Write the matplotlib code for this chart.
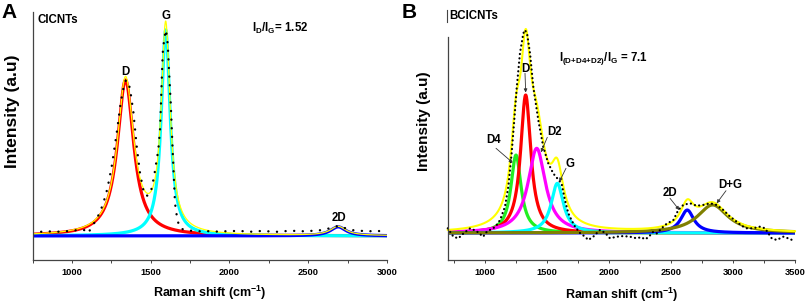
import numpy as np
import matplotlib
matplotlib.use("Agg")
import matplotlib.pyplot as plt
from matplotlib.lines import Line2D
from matplotlib.ticker import MultipleLocator

plt.rcParams['font.family'] = ['Liberation Sans', 'DejaVu Sans']
plt.rcParams['font.weight'] = 'bold'
plt.rcParams['mathtext.fontset'] = 'custom'
plt.rcParams['mathtext.rm'] = 'Liberation Sans:bold'
plt.rcParams['mathtext.it'] = 'Liberation Sans:bold'
plt.rcParams['mathtext.bf'] = 'Liberation Sans:bold'

# ---------------- data: panel A (CICNTs) ----------------
xA = [750, 800, 850, 900, 950, 1000, 1050, 1080, 1100, 1120, 1146, 1175, 1199, 1225,
      1252, 1284, 1310, 1330, 1343, 1355, 1368, 1390, 1411, 1432, 1459, 1480, 1500,
      1521, 1531, 1548, 1559, 1570, 1576, 1586, 1597, 1608, 1618, 1627, 1640, 1654,
      1669, 1686, 1720, 1760, 1800, 1850, 1900, 1950, 2000, 2050, 2100, 2150, 2200,
      2250, 2300, 2350, 2400, 2450, 2500, 2550, 2600, 2640, 2670, 2690, 2710, 2740,
      2780, 2830, 2880, 2930, 2970, 3000]
yA = [0.025, 0.02, 0.022, 0.02, 0.022, 0.025, 0.03, 0.028, 0.012, 0.035, 0.069, 0.11,
      0.159, 0.23, 0.336, 0.5, 0.65, 0.73, 0.757, 0.745, 0.717, 0.6, 0.434, 0.304, 0.2,
      0.195, 0.21, 0.288, 0.336, 0.417, 0.515, 0.757, 0.887, 0.96, 1.0, 0.93, 0.773,
      0.644, 0.4, 0.159, 0.078, 0.037, 0.028, 0.025, 0.022, 0.024, 0.02, 0.023, 0.022,
      0.025, 0.022, 0.02, 0.024, 0.022, 0.02, 0.023, 0.025, 0.022, 0.024, 0.025, 0.03,
      0.038, 0.045, 0.048, 0.045, 0.036, 0.028, 0.025, 0.022, 0.025, 0.022, 0.02]
# fitted Lorentzian peaks: name, centre, height, FWHM, colour
peaksA_names = ['D', 'G', '2D']
peaksA_center = [1340, 1595, 2690]
peaksA_height = [0.757, 1.0, 0.044]
peaksA_fwhm = [125, 68, 120]
peaksA_color = ['#ff0000', '#00ffff', '#0000ff']

# ---------------- data: panel B (BCICNTs) ----------------
xB = [700, 745, 785, 830, 880, 930, 985, 1014, 1040, 1067, 1095, 1121, 1161, 1188, 1215,
      1236, 1256, 1282, 1309, 1323, 1340, 1363, 1390, 1430, 1470, 1510, 1551, 1585, 1618,
      1645, 1672, 1700, 1726, 1766, 1806, 1833, 1873, 1927, 1970, 2008, 2062, 2115, 2169,
      2223, 2260, 2290, 2317, 2357, 2385, 2438, 2465, 2519, 2559, 2599, 2653, 2707, 2761,
      2815, 2868, 2922, 2976, 3030, 3070, 3110, 3164, 3218, 3258, 3312, 3352, 3406, 3460,
      3500]
yB = [0.023, -0.018, -0.026, 0.0, 0.023, 0.01, -0.018, 0.006, 0.015, 0.023, 0.04, 0.063,
      0.128, 0.226, 0.39, 0.55, 0.71, 0.877, 0.974, 0.99, 0.97, 0.877, 0.71, 0.55, 0.42,
      0.34, 0.29, 0.265, 0.24, 0.16, 0.096, 0.06, 0.031, 0.0, -0.018, -0.034, -0.018,
      0.015, 0.0, -0.026, -0.018, -0.015, -0.018, -0.026, -0.02, -0.031, -0.021, 0.006,
      -0.002, 0.031, 0.045, 0.063, 0.112, 0.137, 0.145, 0.133, 0.137, 0.145, 0.137, 0.112,
      0.08, 0.055, 0.035, 0.023, 0.023, 0.031, 0.023, -0.026, -0.034, -0.018, -0.029,
      -0.042]
peaksB_names = ['D4', 'D', 'D2', 'G', '2D', 'D+G']
peaksB_center = [1250, 1328, 1417, 1583, 2631, 2836]
peaksB_height = [0.38, 0.673, 0.413, 0.242, 0.112, 0.137]
peaksB_fwhm = [100, 100, 170, 120, 130, 300]
peaksB_color = ['#22ee22', '#ff0000', '#ff00ff', '#00ffff', '#0000ff', '#808000']

ticks_A = [1000, 1500, 2000, 2500, 3000]
ticks_B = [1000, 1500, 2000, 2500, 3000, 3500]


def lor(x, c, h, w):
    return h / (1.0 + ((x - c) / (w / 2.0)) ** 2)


W, H = 809, 307
fig = plt.figure(figsize=(W / 100, H / 100), dpi=100)

axA = fig.add_axes([32.6 / W, 47 / H, (387 - 32.6) / W, 248 / H])
axB = fig.add_axes([447.8 / W, 47 / H, (795 - 447.8) / W, 248 / H])
axA.set_xlim(750, 3000)
axA.set_ylim(-0.117, 1.087)
axB.set_xlim(700, 3500)
axB.set_ylim(-0.1317, 1.078)

for ax, ticks in ((axA, ticks_A), (axB, ticks_B)):
    for s in ('top', 'right'):
        ax.spines[s].set_visible(False)
    for s in ('left', 'bottom'):
        ax.spines[s].set_color('#444444')
        ax.spines[s].set_linewidth(0.9)
    ax.set_yticks([])
    ax.set_xticks(ticks)
    ax.xaxis.set_minor_locator(MultipleLocator(250))
    ax.tick_params(axis='x', which='both', direction='out', length=2.5, width=0.7,
                   color='#444444', labelsize=6.7, pad=3)
    for lab in ax.get_xticklabels():
        lab.set_fontweight('bold')
    ax.set_facecolor('none')

axB.spines['left'].set_bounds(-0.1317, 0.956)


def P(ax, X, Y):
    return tuple(ax.transData.inverted().transform((X, H - Y)))


# ---------- panel A ----------
gA = np.linspace(750, 3000, 3000)
cumA = np.zeros_like(gA)
for c, h, w, col in zip(peaksA_center, peaksA_height, peaksA_fwhm, peaksA_color):
    yy = lor(gA, c, h, w)
    cumA += yy
    axA.plot(gA, yy, color=col, lw=2.3, solid_capstyle='butt')
axA.plot(gA, cumA, color='#ffff00', lw=0.9)
axA.plot(xA, yA, color='black', lw=1.7, linestyle=(0, (0.05, 3.6)),
         dash_capstyle='round')

# ---------- panel B ----------
gB = np.linspace(700, 3500, 3000)
cumB = np.zeros_like(gB)
for c, h, w, col in zip(peaksB_center, peaksB_height, peaksB_fwhm, peaksB_color):
    yy = lor(gB, c, h, w)
    cumB += yy
    axB.plot(gB, yy, color=col, lw=2.3, solid_capstyle='butt')
axB.plot(gB, cumB, color='#ffff00', lw=1.5, clip_on=False)
axB.plot(xB, yB, color='black', lw=1.6, linestyle=(0, (0.05, 1.9)),
         dash_capstyle='round', clip_on=False)

# ---------- axis labels ----------
for ax, xc, yc, ylx, yly, ysz in ((axA, 209.7, 293, 12.5, 111, 12.5),
                                  (axB, 621.5, 295, 424, 121, 11.0)):
    ax.text(*P(ax, xc, yc), 'Raman shift (cm$^{-1}$)', ha='center', va='center',
            fontsize=9.0, fontweight='bold')
    ax.text(*P(ax, ylx, yly), 'Intensity (a.u)', ha='center', va='center',
            rotation=90, fontsize=ysz, fontweight='bold')

# ---------- texts panel A ----------
fig.text(1.7 / W, 1 - 18.3 / H, 'A', fontsize=15, fontweight='bold', ha='left', va='baseline')
fig.text(401.7 / W, 1 - 18.3 / H, 'B', fontsize=15, fontweight='bold', ha='left', va='baseline')
axA.text(*P(axA, 37.3, 22.7), 'CICNTs', fontsize=8.3, fontweight='bold', ha='left', va='baseline')
axA.text(*P(axA, 251.7, 31.5), r'$\mathbf{I_D/I_G}$= 1.52', fontsize=8.3, ha='left', va='baseline')
for name, (xx, yy) in zip(peaksA_names, [(125.5, 75), (166.3, 19), (338.5, 220.7)]):
    axA.text(*P(axA, xx, yy), name, fontsize=8.3, fontweight='bold', ha='center', va='baseline')

# ---------- texts panel B ----------
axB.text(*P(axB, 449.3, 19.3), 'BCICNTs', fontsize=8.3, fontweight='bold', ha='left', va='baseline')
fig.add_artist(Line2D([447.3 / W, 447.3 / W], [1 - 9.5 / H, 1 - 21.7 / H], color='#444444', lw=0.8))
axB.text(*P(axB, 559.3, 60.5), r'$\mathbf{I_{(D{+}D4{+}D2)}/I_G}$ = 7.1', fontsize=8.3,
         ha='left', va='baseline')

labelsB = {
    'D': ((525.3, 71.7), (525.0, 73.3), (525.7, 92.5)),
    'D4': ((493.3, 143.3), (496.0, 148.3), (512.7, 162.7)),
    'D2': ((554.2, 135.0), (547.3, 137.3), (541.0, 152.3)),
    'G': ((570.0, 166.7), (566.0, 168.3), (559.3, 181.7)),
    '2D': ((670.0, 196.0), (670.0, 198.3), (679.3, 210.0)),
    'D+G': ((730.3, 188.3), (726.0, 190.7), (716.7, 203.3)),
}
for name in peaksB_names:
    (tx, ty), (sx, sy), (ex, ey) = labelsB[name]
    axB.text(*P(axB, tx, ty), name, fontsize=8.3, fontweight='bold', ha='center', va='baseline')
    axB.annotate('', xy=P(axB, ex, ey), xytext=P(axB, sx, sy),
                 arrowprops=dict(arrowstyle='-|>', color='#333333', lw=0.6,
                                 mutation_scale=5, shrinkA=0, shrinkB=0))

fig.savefig('out.png', dpi=100)
